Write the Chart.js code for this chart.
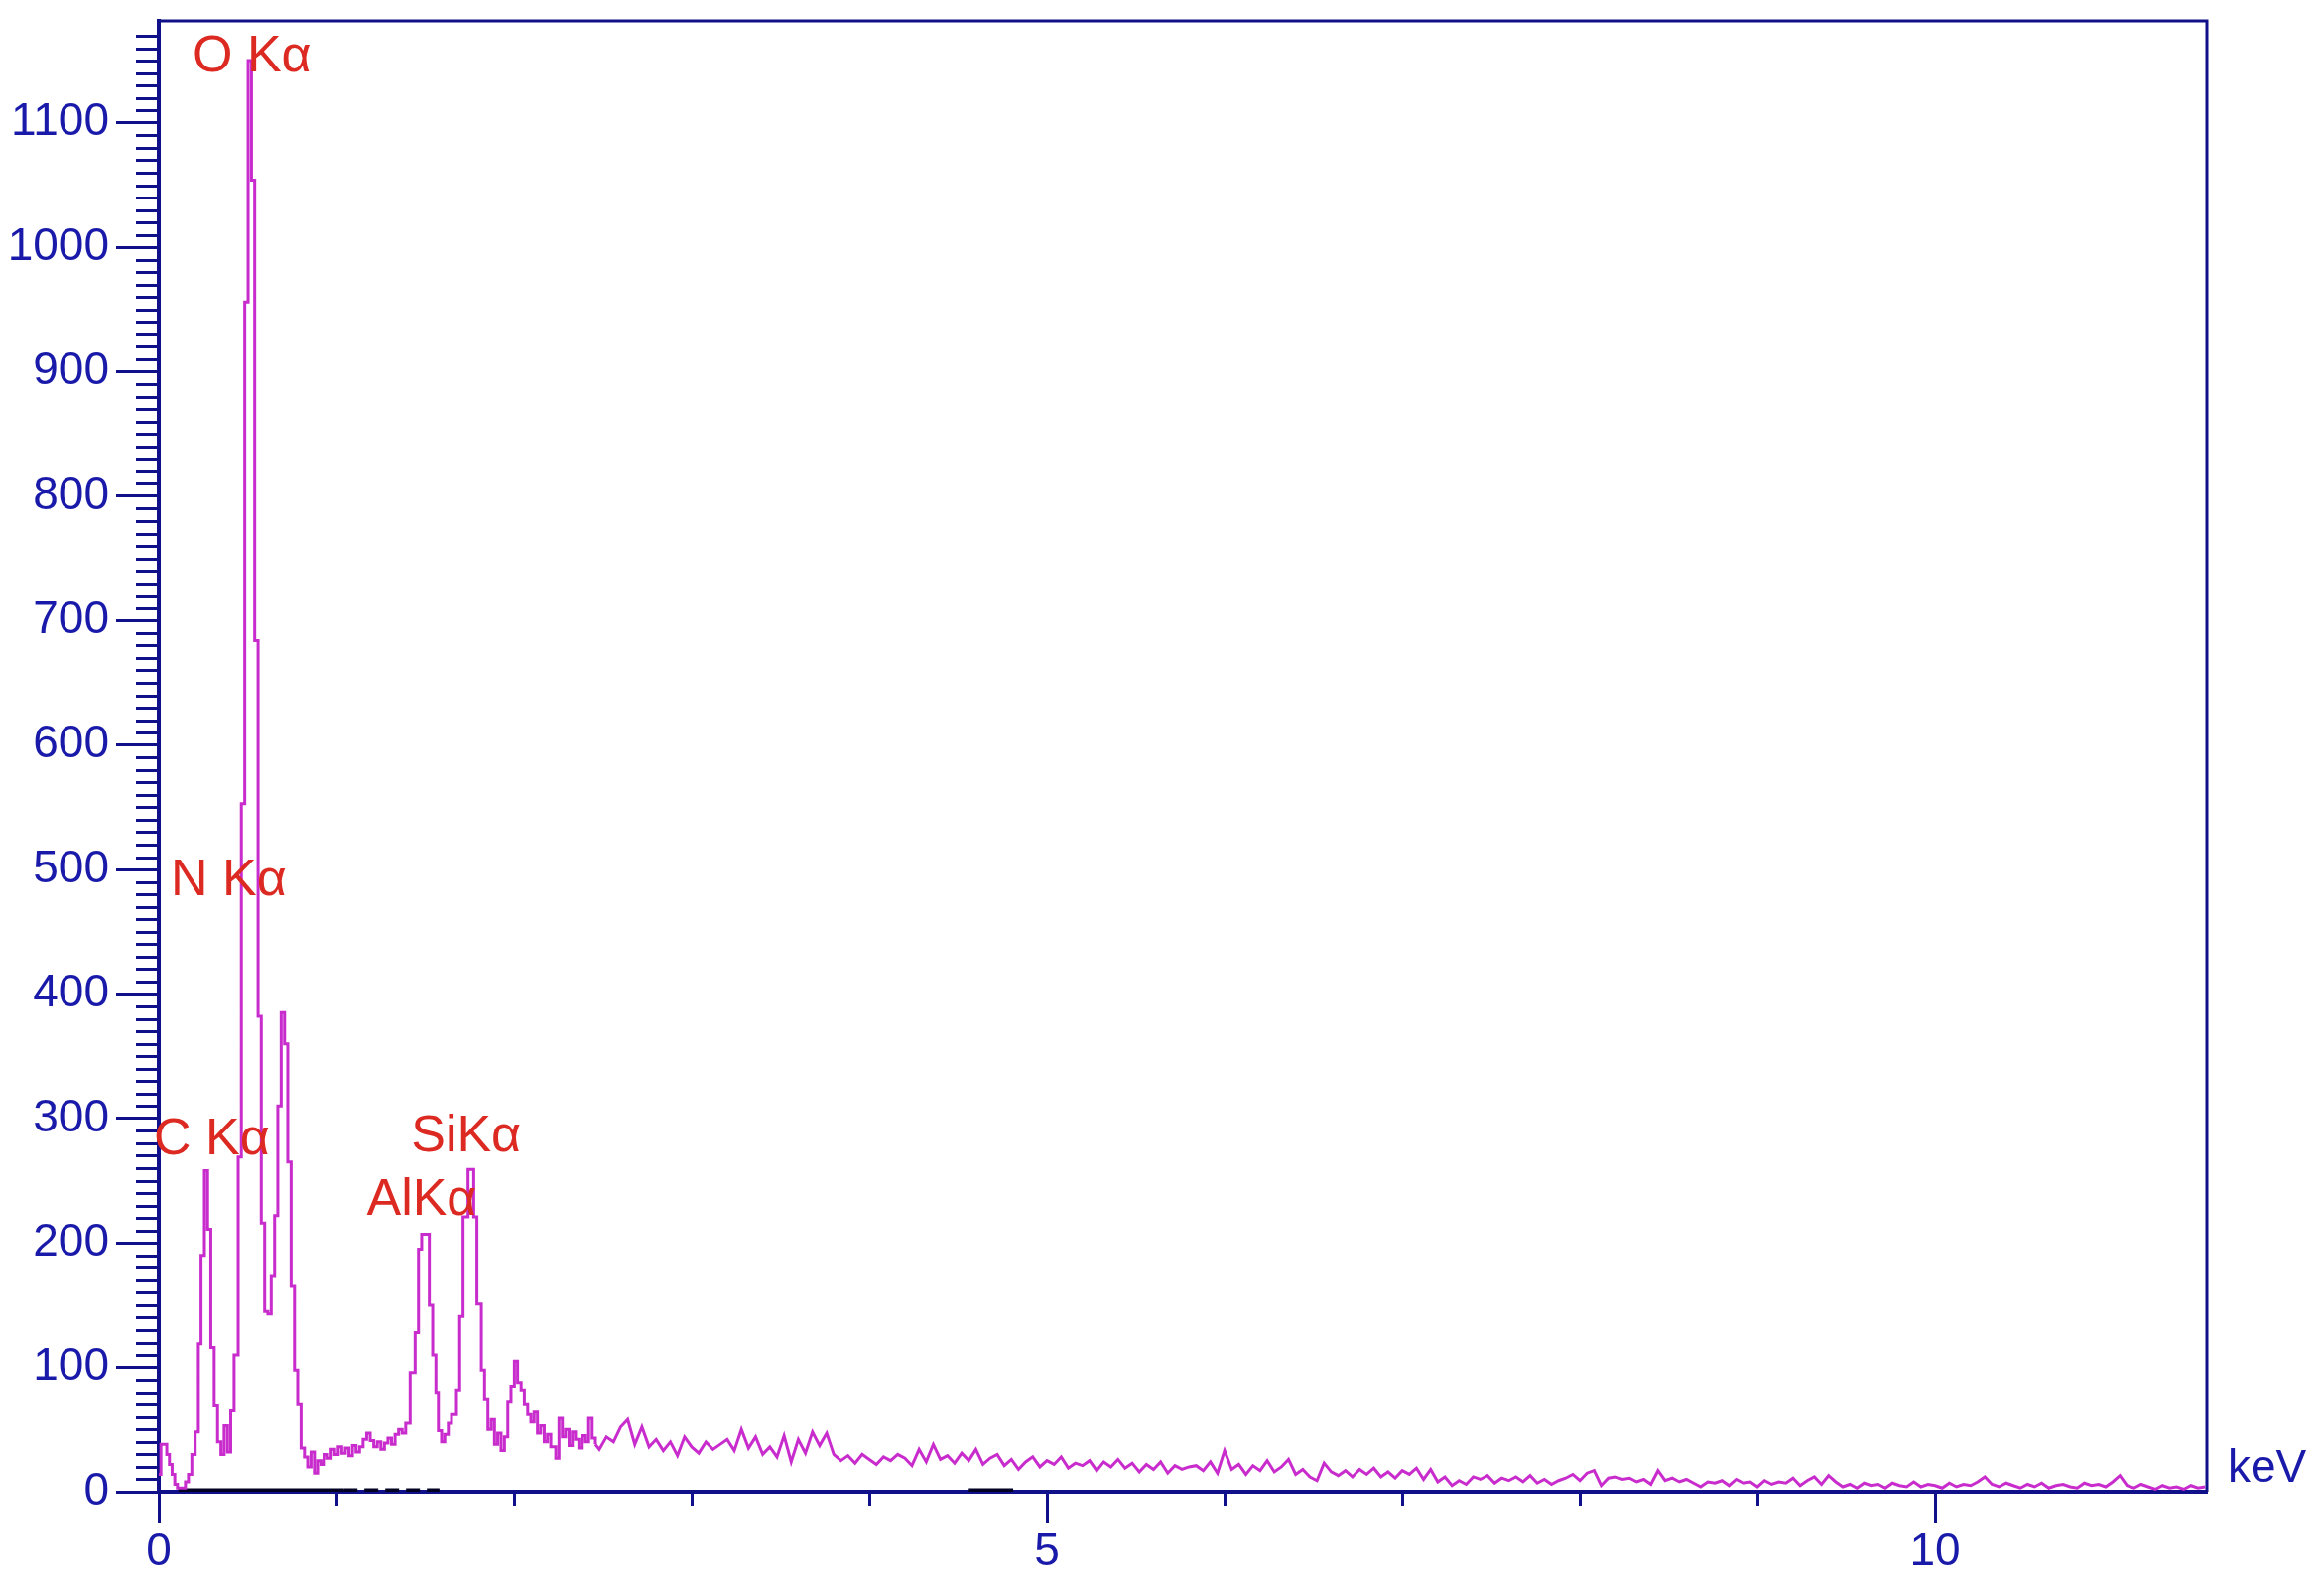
<!DOCTYPE html>
<html>
<head>
<meta charset="utf-8">
<title>EDS spectrum</title>
<script src="https://cdn.jsdelivr.net/npm/chart.js@4.4.0/dist/chart.umd.min.js"></script>
<style>
  html, body { margin: 0; padding: 0; background: #ffffff; }
  #wrap { width: 2342px; height: 1606px; }
</style>
</head>
<body>
<div id="wrap"><canvas id="myChart" width="2342" height="1606"></canvas></div>
<script>
// low energy part of the spectrum: energy (keV) where the trace steps, and the new count level
const peakEnergy = [
  0.000, 0.012, 0.045, 0.060, 0.075, 0.090, 0.105, 0.150, 0.167, 0.186,
  0.205, 0.223, 0.238, 0.257, 0.275, 0.293, 0.312, 0.331, 0.350, 0.368,
  0.387, 0.405, 0.424, 0.447, 0.465, 0.484, 0.503, 0.522, 0.540, 0.559,
  0.577, 0.596, 0.614, 0.633, 0.652, 0.670, 0.689, 0.708, 0.726, 0.745,
  0.764, 0.782, 0.801, 0.820, 0.838, 0.857, 0.876, 0.894, 0.913, 0.932,
  0.950, 0.970, 0.990, 1.010, 1.030, 1.050, 1.070, 1.090, 1.110, 1.130,
  1.150, 1.170, 1.190, 1.210, 1.230, 1.250, 1.270, 1.290, 1.310, 1.330,
  1.350, 1.370, 1.390, 1.415, 1.443, 1.462, 1.480, 1.523, 1.542, 1.560,
  1.574, 1.592, 1.610, 1.630, 1.648, 1.676, 1.694, 1.713, 1.741, 1.773,
  1.791, 1.816, 1.834, 1.853, 1.872, 1.890, 1.908, 1.927, 1.946, 1.965,
  1.983, 2.002, 2.020, 2.040, 2.058, 2.077, 2.095, 2.113, 2.132, 2.150,
  2.170, 2.188, 2.207, 2.235, 2.253, 2.272, 2.290, 2.310, 2.328, 2.346,
  2.365, 2.384, 2.402, 2.420, 2.440, 2.458
];
const peakCounts = [
  14, 38, 30, 22, 14, 6, 3, 8, 14, 30,
  48, 119, 190, 258, 211, 116, 69, 40, 30, 53,
  32, 65, 110, 269, 553, 956, 1150, 1054, 684, 382,
  216, 145, 143, 173, 222, 310, 385, 360, 265, 165,
  98, 70, 35, 28, 20, 32, 15, 25, 22, 30,
  27, 34, 30, 36, 31, 35, 29, 37, 32, 36,
  42, 47, 41, 36, 40, 34, 39, 43, 38, 46,
  50, 47, 55, 96, 128, 195, 207, 150, 110, 80,
  49, 40, 46, 55, 62, 82, 141, 221, 259, 221,
  151, 98, 74, 50, 58, 38, 47, 33, 44, 72,
  85, 105, 88, 82, 70, 62, 56, 64, 47, 53,
  40, 46, 36, 27, 59, 44, 50, 37, 48, 42,
  35, 45, 40, 59, 43, 38
];

// background channels, 0.04 keV wide, first one at 2.48 keV
const bgStartKeV = 2.48;
const bgChannelKeV = 0.04;
const bgCounts = [
  34, 44, 40, 52, 58, 38, 52, 36, 42, 33, 40, 29, 44, 36, 31, 40, 34, 38, 42, 33,
  50, 35, 44, 30, 36, 28, 45, 24, 42, 31, 48, 37, 47, 30, 25, 29, 23, 30, 26, 22,
  28, 25, 30, 27, 21, 34, 24, 38, 26, 29, 23, 31, 25, 34, 22, 27, 30, 21, 26, 18,
  24, 28, 20, 25, 22, 28, 19, 23, 21, 25, 17, 24, 20, 26, 19, 23, 16, 22, 18, 24,
  15, 21, 18, 20,
  21, 17, 24, 15, 33, 18, 22, 14, 21, 17, 25, 16, 20, 26, 14, 18, 12, 9, 23, 16,
  13, 17, 12, 18, 14, 19, 12, 16, 11, 17, 14, 19, 10, 18, 8, 12, 5, 9, 6, 12,
  10, 13, 7, 11, 9, 12, 8, 13, 7, 10, 6, 9, 11, 14, 9, 15, 17, 5, 11, 12,
  10, 11, 8, 10, 6, 17, 9, 11, 8, 10, 7, 4, 8, 7, 9, 5, 10, 7, 8, 4,
  9, 6, 8,
  7, 11, 5, 9, 12, 6, 13, 8, 4, 6, 3, 7, 5, 6, 3, 7, 5, 4, 8, 4,
  6, 5, 3, 7, 4, 6, 5, 8, 12, 6, 4, 7, 5, 3, 6, 4, 7, 3, 5, 6,
  4, 3, 7, 5, 6, 4, 8, 13, 5, 3, 6, 4, 2, 5, 3, 4, 2, 5, 3, 4
];

// marker bars on the energy axis (keV ranges)
const roiSolid = [[0.11, 1.04], [4.56, 4.81]];
const roiDashed = [[1.04, 1.58]];

// tick labels
const xLabelValues = [0, 5, 10];
const yLabelValues = [0, 100, 200, 300, 400, 500, 600, 700, 800, 900, 1000, 1100];

// peak names
const peakNames = ['O K\u03b1', 'N K\u03b1', 'C K\u03b1', 'SiK\u03b1', 'AlK\u03b1'];

const navy = '#10108a';
const labelBlue = '#1a1aaa';
const red = '#dc2a22';
const trace = '#c82ccc';
const fontFamily = "'Liberation Sans', Arial, sans-serif";

// where each peak name sits (left edge keV, middle in counts)
const nameAnchors = [
  { x: 0.19, y: 1153 },
  { x: 0.067, y: 491 },
  { x: -0.028, y: 283 },
  { x: 1.42, y: 285 },
  { x: 1.17, y: 234 }
];

document.addEventListener('DOMContentLoaded', myLoadEvent);

function myLoadEvent() {
  const peaks = peakEnergy.map((e, i) => ({ x: e, y: peakCounts[i] }));
  // background continues from the last peak-region level
  const background = [peaks[peaks.length - 1]];
  bgCounts.forEach((c, i) => {
    background.push({ x: +(bgStartKeV + i * bgChannelKeV).toFixed(3), y: c });
  });

  function roiPoints(list) {
    const pts = [];
    list.forEach(r => {
      pts.push({ x: r[0], y: 0 }, { x: r[1], y: 0 }, { x: r[1] + 0.001, y: null });
    });
    return pts;
  }

  const decorations = {
    id: 'decorations',
    afterDraw(chart) {
      const { ctx, chartArea: a, scales: { x, y } } = chart;
      ctx.save();
      ctx.strokeStyle = navy;
      ctx.lineWidth = 3;
      ctx.beginPath();
      // minor ticks
      y.ticks.forEach(t => {
        if (t.value % 100 !== 0) {
          const py = Math.round(y.getPixelForValue(t.value)) + 0.5;
          ctx.moveTo(a.left - 23, py);
          ctx.lineTo(a.left, py);
        }
      });
      x.ticks.forEach(t => {
        if (t.value % 5 !== 0) {
          const px = Math.round(x.getPixelForValue(t.value)) + 0.5;
          ctx.moveTo(px, a.bottom);
          ctx.lineTo(px, a.bottom + 14);
        }
      });
      ctx.stroke();
      // frame top and right
      ctx.lineWidth = 3;
      ctx.beginPath();
      ctx.moveTo(a.left, a.top);
      ctx.lineTo(a.right, a.top);
      ctx.lineTo(a.right, a.bottom);
      ctx.stroke();

      // unit
      ctx.fillStyle = labelBlue;
      ctx.font = '46px ' + fontFamily;
      ctx.textAlign = 'left';
      ctx.textBaseline = 'middle';
      ctx.fillText('keV', a.right + 21, a.bottom - 23);

      // peak names
      ctx.fillStyle = red;
      ctx.font = '52px ' + fontFamily;
      peakNames.forEach((n, i) => {
        const p = nameAnchors[i];
        ctx.fillText(n, x.getPixelForValue(p.x), y.getPixelForValue(p.y));
      });
      ctx.restore();
    }
  };

  const ctx = document.getElementById('myChart');
  new Chart(ctx, {
    type: 'line',
    data: {
      datasets: [
        {
          label: 'peaks',
          data: peaks,
          borderColor: trace,
          borderWidth: 3,
          pointRadius: 0,
          stepped: 'before',
          fill: false
        },
        {
          label: 'background',
          data: background,
          borderColor: trace,
          borderWidth: 3,
          pointRadius: 0,
          fill: false
        },
        {
          label: 'roi',
          data: roiPoints(roiSolid),
          borderColor: '#000022',
          borderWidth: 7,
          pointRadius: 0,
          spanGaps: false
        },
        {
          label: 'roi dashed',
          data: roiPoints(roiDashed),
          borderColor: '#000022',
          borderWidth: 7,
          borderDash: [14, 7],
          pointRadius: 0,
          spanGaps: false
        }
      ]
    },
    options: {
      responsive: false,
      animation: false,
      events: [],
      layout: { padding: { top: 21, right: 118, left: 0, bottom: 0 } },
      plugins: { legend: { display: false }, tooltip: { enabled: false } },
      scales: {
        x: {
          type: 'linear',
          min: 0,
          max: 11.53,
          afterBuildTicks: s => { s.ticks = s.ticks.filter(t => Number.isInteger(t.value)); },
          afterFit: s => { s.height = 103; s.paddingLeft = 0; s.paddingRight = 0; },
          ticks: {
            stepSize: 1,
            autoSkip: false,
            maxRotation: 0,
            padding: 3,
            color: labelBlue,
            font: { family: fontFamily, size: 46 },
            callback: v => (xLabelValues.includes(v) ? String(v) : '')
          },
          grid: {
            drawOnChartArea: false,
            tickLength: 31,
            tickWidth: 3,
            tickColor: c => (c.tick && c.tick.value % 5 === 0 ? navy : 'rgba(0,0,0,0)')
          },
          border: { color: navy, width: 4 }
        },
        y: {
          min: 0,
          max: 1182,
          afterBuildTicks: s => { s.ticks = s.ticks.filter(t => t.value % 10 === 0); },
          afterFit: s => { s.width = 160; s.paddingTop = 0; s.paddingBottom = 0; },
          ticks: {
            stepSize: 10,
            autoSkip: false,
            padding: 7,
            color: labelBlue,
            font: { family: fontFamily, size: 46 },
            callback: v => (yLabelValues.includes(v) ? String(v) : '')
          },
          grid: {
            drawOnChartArea: false,
            tickLength: 43,
            tickWidth: 3,
            tickColor: c => (c.tick && c.tick.value % 100 === 0 ? navy : 'rgba(0,0,0,0)')
          },
          border: { color: navy, width: 4 }
        }
      }
    },
    plugins: [decorations]
  });
}
</script>
</body>
</html>
